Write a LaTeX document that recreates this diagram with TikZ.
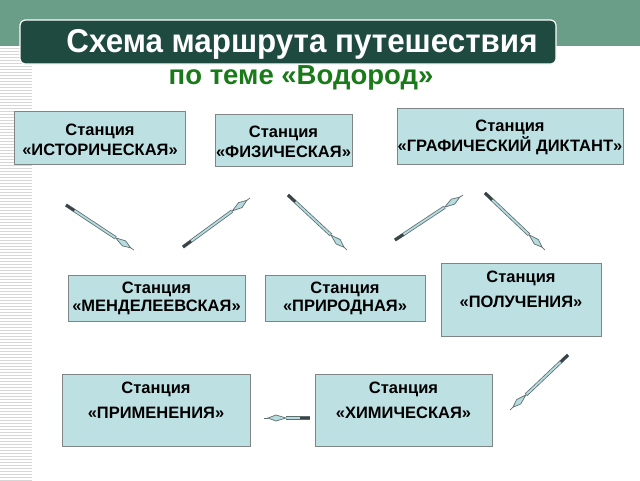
\documentclass[tikz,border=0pt]{standalone}
\usepackage{fontspec}
\setmainfont{Liberation Sans}
\newfontfamily\titlefont[FakeStretch=0.95]{Liberation Sans}
\newfontfamily\boxfont{Liberation Sans}
\usetikzlibrary{calc}
\definecolor{bandgreen}{HTML}{6A9E89}
\definecolor{titlebg}{HTML}{1F4A3F}
\definecolor{subgreen}{HTML}{1A7A1A}
\definecolor{boxfill}{HTML}{BDE0E3}
\definecolor{boxedge}{HTML}{7F8585}
\definecolor{shaftedge}{HTML}{5F6E70}
\definecolor{shaftfill}{HTML}{B6DCE0}
\definecolor{feather}{HTML}{3A4244}
\definecolor{stripe}{HTML}{D6D6D6}
\tikzset{
  stationbox/.style={draw=boxedge, line width=0.9pt, fill=boxfill, rectangle, inner sep=0pt},
  stationtext/.style={font=\boxfont\bfseries\fontsize{16.5}{20}\selectfont, align=center, text=black, inner sep=0pt},
}
\newcommand\featherarrow[2]{%
  \coordinate (fa-w) at ($(#2)!12pt!(#1)$);
  \coordinate (fa-b) at ($(#2)!22pt!(#1)$);
  \coordinate (fa-t) at ($(#2)!4pt!(#1)$);
  \coordinate (fa-l) at ($(fa-w)!3pt!90:(#2)$);
  \coordinate (fa-r) at ($(fa-w)!3pt!-90:(#2)$);
  \coordinate (fa-f) at ($(#1)!10pt!(#2)$);
  \draw[line width=3.4pt, draw=shaftedge] (#1) -- (fa-b);
  \draw[line width=1.8pt, draw=shaftfill] (#1) -- (fa-b);
  \draw[line width=0.7pt, draw=shaftedge] (fa-t) -- (#2);
  \filldraw[fill=shaftfill, draw=shaftedge, line width=0.7pt] (fa-t) -- (fa-l) -- (fa-b) -- (fa-r) -- cycle;
  \draw[line width=2.6pt, draw=feather] (#1) -- (fa-f);
}
\begin{document}
\begin{tikzpicture}[x=1pt, y=-1pt]
\useasboundingbox (0,0) rectangle (640,480);
\fill[white] (0,0) rectangle (640,480);
% top band
\fill[bandgreen] (0,0) rectangle (640,46);
% stripes
\foreach \y in {48,51,...,480} {\draw[stripe, line width=1pt] (0,\y) -- (32,\y);}
% title
\node[draw=white, line width=1.2pt, fill=titlebg, rounded corners=5pt, minimum width=536pt, minimum height=44pt, inner sep=0pt] (title) at (288,42) {};
\node[text=white, font=\titlefont\bfseries\fontsize{33}{36}\selectfont, inner sep=0pt] (titletext) at (302,44) {Схема маршрута путешествия};
\node[text=subgreen, font=\boxfont\bfseries\fontsize{27.5}{30}\selectfont, inner sep=0pt] (subtitle) at (301,78) {по теме «Водород»};
% boxes
\node[stationbox, minimum width=171pt, minimum height=53pt] (b1) at (99.5,138) {};
\node[stationtext] (t1) at (100,140) {Станция\\«ИСТОРИЧЕСКАЯ»};
\node[stationbox, minimum width=137pt, minimum height=52pt] (b2) at (283.5,140) {};
\node[stationtext] (t2) at (283.5,142) {Станция\\«ФИЗИЧЕСКАЯ»};
\node[stationbox, minimum width=226pt, minimum height=56pt] (b3) at (510,136) {};
\node[stationtext] (t3) at (510,137) {Станция\\«ГРАФИЧЕСКИЙ ДИКТАНТ»};
\node[stationbox, minimum width=177pt, minimum height=46pt] (b4) at (156.5,298) {};
\node[stationtext, font=\boxfont\bfseries\fontsize{16.5}{18}\selectfont] (t4) at (156.5,298) {Станция\\«МЕНДЕЛЕЕВСКАЯ»};
\node[stationbox, minimum width=160pt, minimum height=46pt] (b5) at (345,298) {};
\node[stationtext, font=\boxfont\bfseries\fontsize{16.5}{18}\selectfont] (t5) at (345,298) {Станция\\«ПРИРОДНАЯ»};
\node[stationbox, minimum width=160pt, minimum height=73pt] (b6) at (521,299.5) {};
\node[stationtext, font=\boxfont\bfseries\fontsize{16.5}{25}\selectfont] (t6) at (521,289.5) {Станция\\«ПОЛУЧЕНИЯ»};
\node[stationbox, minimum width=188pt, minimum height=72pt] (b7) at (156,410) {};
\node[stationtext, font=\boxfont\bfseries\fontsize{16.5}{25}\selectfont] (t7) at (156,400.5) {Станция\\«ПРИМЕНЕНИЯ»};
\node[stationbox, minimum width=177pt, minimum height=72pt] (b8) at (403.5,410) {};
\node[stationtext, font=\boxfont\bfseries\fontsize{16.5}{25}\selectfont] (t8) at (403.5,400.5) {Станция\\«ХИМИЧЕСКАЯ»};
% arrows
\coordinate (a1s) at (66,205);  \coordinate (a1e) at (134,250);
\coordinate (a2s) at (183,247); \coordinate (a2e) at (250,198);
\coordinate (a3s) at (288,195); \coordinate (a3e) at (347,250);
\coordinate (a4s) at (395,240); \coordinate (a4e) at (463,195);
\coordinate (a5s) at (485,193); \coordinate (a5e) at (545,250);
\coordinate (a6s) at (568,355); \coordinate (a6e) at (510,410);
\coordinate (a7s) at (310,418); \coordinate (a7e) at (264,418);
\featherarrow{a1s}{a1e}
\featherarrow{a2s}{a2e}
\featherarrow{a3s}{a3e}
\featherarrow{a4s}{a4e}
\featherarrow{a5s}{a5e}
\featherarrow{a6s}{a6e}
\featherarrow{a7s}{a7e}
\end{tikzpicture}
\end{document}
